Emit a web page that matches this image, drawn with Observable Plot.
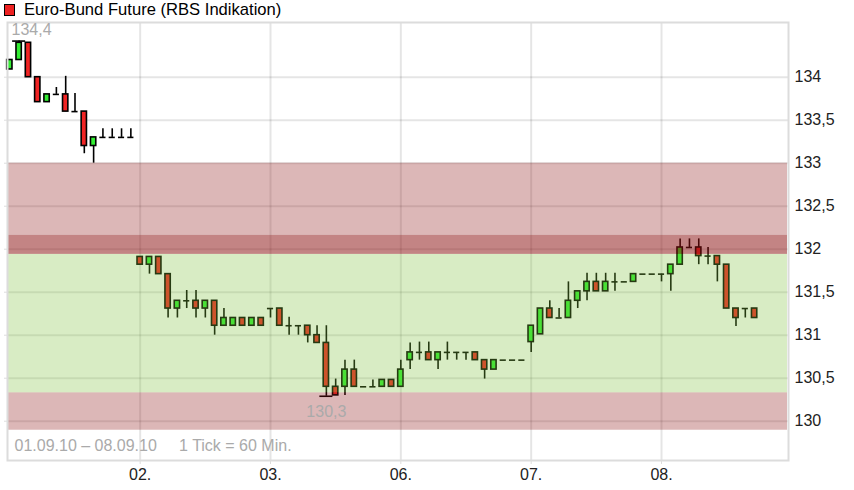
<!DOCTYPE html>
<html><head><meta charset="utf-8">
<script src="https://cdn.jsdelivr.net/npm/d3@7"></script>
<script src="https://cdn.jsdelivr.net/npm/@observablehq/plot@0.6"></script>
<style>
body{margin:0;background:#fff;font-family:"Liberation Sans",Arial,sans-serif;}
#title{height:20px;position:relative;font-size:16.6px;color:#000;}
#title .sw{position:absolute;left:4px;top:4px;width:9px;height:10px;background:#ee2222;border:1px solid #000;}
#title .tx{position:absolute;left:24px;top:1px;line-height:18px;white-space:nowrap;}
#chart svg{display:block;}
</style></head><body>
<div id="title"><span class="sw"></span><span class="tx">Euro-Bund Future (RBS Indikation)</span></div>
<div id="chart"></div>
<script>
// hourly ticks, 14 per trading day
const open  = [134.09,134.20,134.40,134.00,133.71,133.80,133.80,133.60,133.60,133.20,133.30,133.30,133.30,133.30,
  131.91,131.82,131.91,131.71,131.31,131.40,131.40,131.31,131.40,131.11,131.11,131.20,131.11,131.20,
  131.31,131.31,131.11,131.11,131.11,131.00,130.91,130.40,130.40,130.60,130.40,130.40,130.40,130.48,
  130.40,130.71,130.80,130.80,130.71,130.80,130.80,130.80,130.80,130.71,130.60,130.71,130.71,130.71,
  130.92,131.01,131.31,131.20,131.20,131.40,131.51,131.62,131.51,131.62,131.62,131.62,131.71,131.71,
  131.71,131.71,131.82,132.02,132.02,131.92,131.92,131.82,131.31,131.31,131.31];
const high  = [134.20,134.42,134.40,134.00,133.80,133.88,134.01,133.81,133.60,133.30,133.40,133.40,133.40,133.40,
  131.91,131.91,131.91,131.71,131.40,131.52,131.52,131.40,131.40,131.31,131.20,131.20,131.20,131.20,
  131.31,131.31,131.21,131.11,131.11,131.11,131.11,130.49,130.71,130.71,130.40,130.48,130.48,130.48,
  130.71,130.91,130.92,130.92,130.80,130.92,130.80,130.80,130.80,130.71,130.71,130.71,130.71,130.71,
  131.11,131.31,131.40,131.31,131.62,131.51,131.72,131.72,131.72,131.72,131.62,131.71,131.71,131.71,
  131.71,131.82,132.12,132.12,132.12,132.02,131.92,131.82,131.31,131.31,131.31];
const low   = [134.09,134.20,134.00,133.71,133.71,133.80,133.60,133.60,133.11,133.00,133.30,133.30,133.30,133.30,
  131.82,131.71,131.71,131.20,131.20,131.31,131.20,131.20,131.00,131.11,131.11,131.11,131.11,131.11,
  131.20,131.11,131.00,131.00,130.91,130.91,130.29,130.30,130.30,130.40,130.40,130.40,130.40,130.40,
  130.40,130.60,130.71,130.71,130.60,130.71,130.71,130.71,130.71,130.49,130.60,130.71,130.71,130.71,
  130.80,131.01,131.20,131.20,131.20,131.31,131.40,131.51,131.51,131.51,131.62,131.62,131.71,131.71,
  131.62,131.51,131.82,132.02,131.82,131.82,131.62,131.31,131.10,131.20,131.20];
const close = [134.20,134.40,134.00,133.71,133.80,133.80,133.60,133.60,133.20,133.30,133.30,133.30,133.30,133.30,
  131.82,131.91,131.71,131.31,131.40,131.40,131.31,131.40,131.11,131.20,131.20,131.11,131.20,131.11,
  131.31,131.11,131.11,131.11,131.00,130.91,130.40,130.30,130.60,130.40,130.40,130.40,130.48,130.40,
  130.60,130.80,130.80,130.71,130.80,130.80,130.80,130.80,130.71,130.60,130.71,130.71,130.71,130.71,
  131.11,131.31,131.20,131.20,131.40,131.51,131.62,131.51,131.62,131.62,131.62,131.71,131.71,131.71,
  131.71,131.82,132.02,132.02,131.92,131.92,131.82,131.31,131.20,131.31,131.20];

const dayStarts = [14, 28, 42, 56, 70];
const dayLabels = ["02.", "03.", "06.", "07.", "08."];
const yTicks = [130, 130.5, 131, 131.5, 132, 132.5, 133, 133.5, 134];
// zones: lower bound, upper bound, kind
const zoneLow  = [129.895, 130.33, 131.94, 131.94];
const zoneHigh = [130.33, 131.94, 133.0, 132.16];
const zoneKind = ["resist", "range", "resist", "resist"];
const caption = "01.09.10 \u2013 08.09.10\u00a0\u00a0\u00a0\u00a0 1 Tick = 60 Min.";

const candles = open.map((o, i) => ({i, open: o, high: high[i], low: low[i], close: close[i]}));
const zones = zoneLow.map((lo, k) => ({lo, hi: zoneHigh[k], kind: zoneKind[k]}));
const maxPt = candles.reduce((a, b) => b.high > a.high ? b : a);
const minPt = candles.reduce((a, b) => b.low < a.low ? b : a);
const dec = d => String(d).replace(".", ",");
const fmt1 = d => d3.format(".1f")(d).replace(".", ",");
const dayLabel = new Map(dayStarts.map((d, k) => [d, dayLabels[k]]));

const chart = Plot.plot({
  width: 854, height: 470,
  marginTop: 2, marginBottom: 30, marginLeft: 7, marginRight: 66,
  style: {fontFamily: "'Liberation Sans', Arial, sans-serif", fontSize: "16px", background: "#fff"},
  x: {type: "linear", domain: [-0.25, 83.64], axis: null, label: null},
  y: {domain: [129.543, 134.636], axis: null, label: null},
  marks: [
    Plot.gridY(yTicks, {stroke: "#000", strokeOpacity: 0.1, strokeWidth: 2}),
    Plot.gridX(dayStarts, {stroke: "#000", strokeOpacity: 0.1, strokeWidth: 2}),
    Plot.ruleX(candles.filter(d => d.high > d.low), {x: "i", y1: "low", y2: "high", stroke: "#000", strokeWidth: 1.6}),
    Plot.rect(candles.filter(d => d.open !== d.close), {
      x1: d => d.i - 0.5, x2: d => d.i + 0.5, y1: "open", y2: "close",
      insetLeft: 2, insetRight: 2,
      fill: d => d.close > d.open ? "#33ee33" : "#f02424",
      stroke: "#000", strokeWidth: 1.6
    }),
    Plot.ruleY(candles.filter(d => d.open === d.close), {
      y: "open", x1: d => d.i - 0.33, x2: d => d.i + 0.33, stroke: "#000", strokeWidth: 1.6
    }),
    Plot.ruleY([maxPt], {y: "high", x1: d => d.i - 0.7, x2: d => d.i + 0.7, stroke: "#000", strokeWidth: 1.6}),
    Plot.ruleY([minPt], {y: "low", x1: d => d.i - 0.7, x2: d => d.i + 0.7, stroke: "#000", strokeWidth: 1.6}),
    Plot.rect(zones, {
      y1: "lo", y2: "hi", insetLeft: 1, insetRight: 1,
      fill: d => d.kind === "range" ? "#7dc03a" : "#8a1212", fillOpacity: 0.3
    }),
    Plot.frame({stroke: "#dcdcdc", strokeWidth: 2}),
    Plot.axisY(yTicks, {anchor: "right", label: null, tickSize: 0, tickPadding: 6, tickFormat: dec, fill: "#222"}),
    Plot.axisY(yTicks, {anchor: "left", label: null, tickSize: 3, tickFormat: () => "", stroke: "#ddd"}),
    Plot.axisX(dayStarts, {anchor: "bottom", label: null, tickSize: 4, tickPadding: 4, tickFormat: d => dayLabel.get(d), stroke: "#ddd", fill: "#222"}),
    Plot.text([maxPt], {frameAnchor: "top-left", text: d => fmt1(d.high), dx: 4, dy: 1.5, lineAnchor: "top", textAnchor: "start", fill: "#aaa", fontSize: 16}),
    Plot.text([minPt], {x: "i", y: "low", text: d => fmt1(d.low), dy: 16, lineAnchor: "middle", fill: "#aaa", fontSize: 16}),
    Plot.text([caption], {frameAnchor: "bottom-left", text: d => d, dx: 7, dy: -15, lineAnchor: "middle", textAnchor: "start", fill: "#aaa", fontSize: 16})
  ]
});
document.getElementById("chart").appendChild(chart);
</script>
</body></html>
